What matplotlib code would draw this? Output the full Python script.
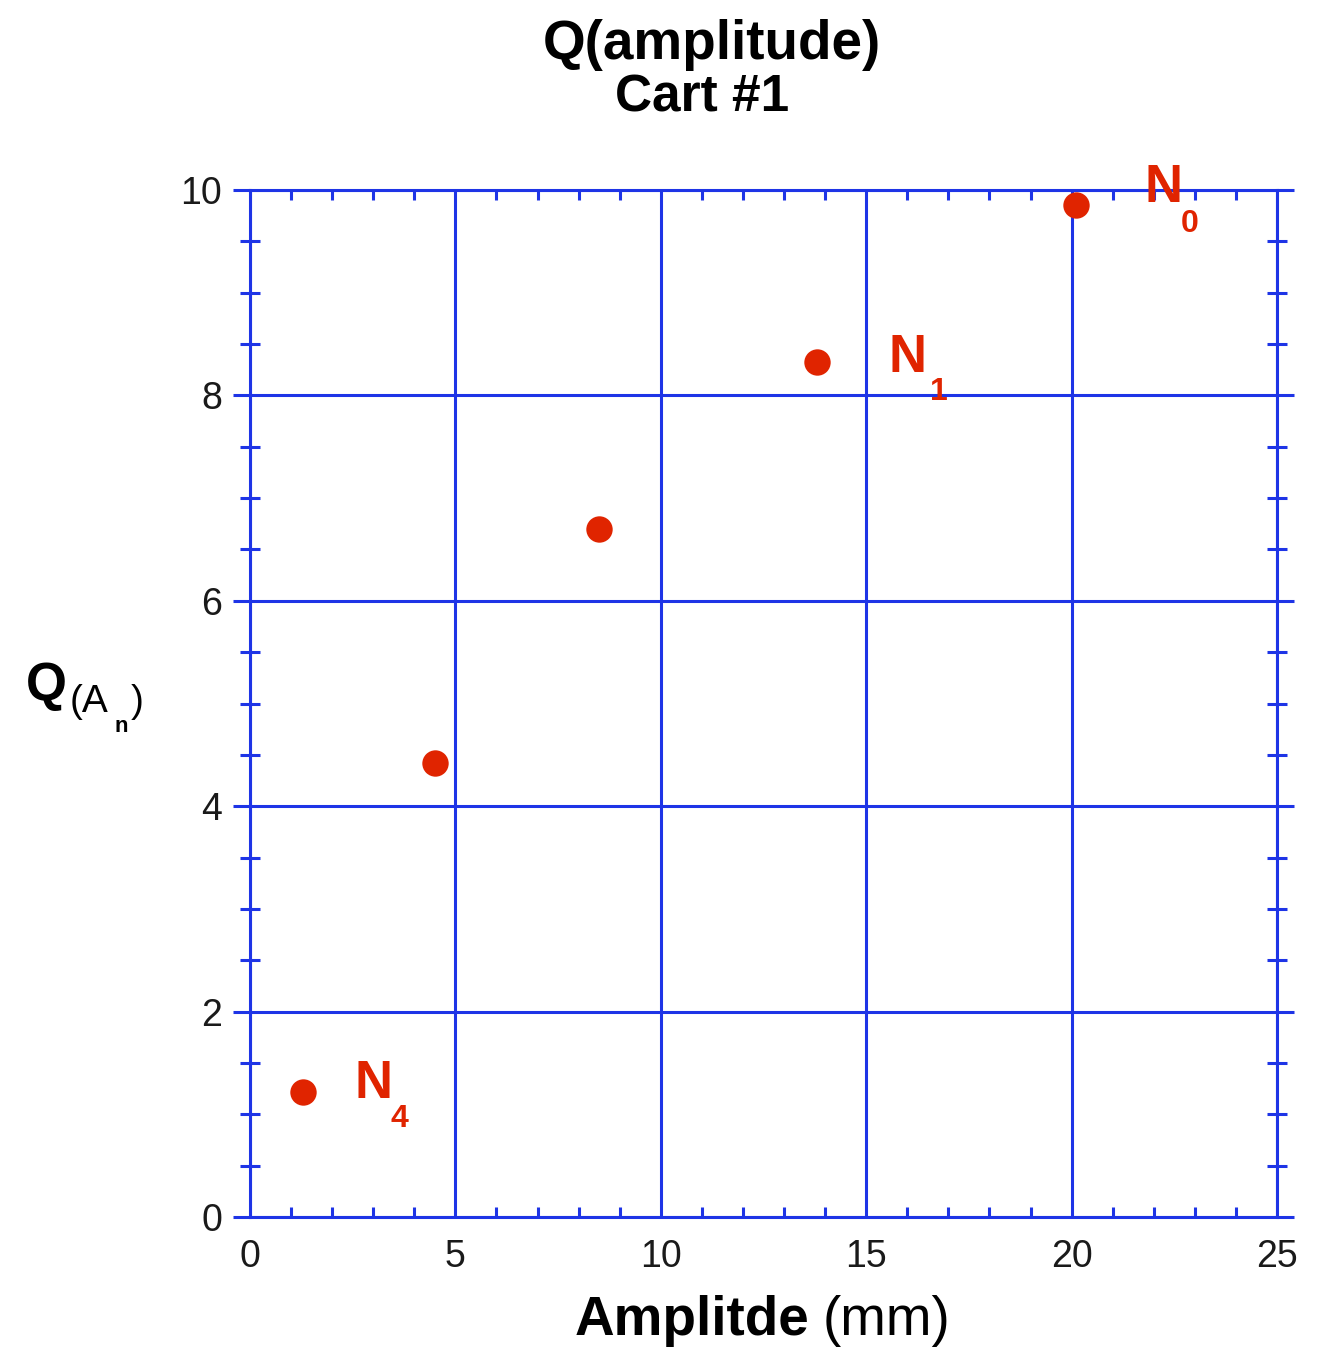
import matplotlib
matplotlib.use("Agg")
import matplotlib.pyplot as plt
from matplotlib.ticker import MultipleLocator

# data
amplitude = [1.3, 4.5, 8.5, 13.8, 20.1]
q_values = [1.22, 4.42, 6.70, 8.33, 9.85]
# labelled points: index into the data, main letter, subscript
label_idx = [4, 3, 0]
label_main = ["N", "N", "N"]
label_sub = ["0", "1", "4"]

x_ticks = [0, 5, 10, 15, 20, 25]
y_ticks = [0, 2, 4, 6, 8, 10]

BLUE = "#1E34E6"
RED = "#E02400"
FONT = "Liberation Sans"

plt.rcParams["font.family"] = [FONT, "DejaVu Sans"]

W, H = 1332, 1355
fig = plt.figure(figsize=(W / 100, H / 100), dpi=100)
ax = fig.add_axes([250 / W, 1 - 1217 / H, 1027 / W, 1027 / H])

ax.set_xlim(0, 25)
ax.set_ylim(0, 10)
ax.set_xticks(x_ticks)
ax.set_yticks(y_ticks)
ax.xaxis.set_minor_locator(MultipleLocator(1))
ax.yaxis.set_minor_locator(MultipleLocator(0.5))

ax.grid(which="major", color=BLUE, linewidth=2.2, zorder=1)
for s in ax.spines.values():
    s.set_color(BLUE)
    s.set_linewidth(2.2)

ax.tick_params(axis="x", which="major", direction="in", length=0, pad=16,
               labelsize=27, labelcolor="#1a1a1a", top=True)
ax.tick_params(axis="x", which="minor", direction="in", length=7, width=2.2,
               color=BLUE, top=True)
ax.tick_params(axis="y", which="major", direction="out", length=12, width=2.2,
               color=BLUE, pad=8, labelsize=27, labelcolor="#1a1a1a", right=True)
ax.tick_params(axis="y", which="minor", direction="inout", length=14, width=2.2,
               color=BLUE, right=True)

ax.plot(amplitude, q_values, "o", color=RED, markersize=19,
        markeredgewidth=0, zorder=3, clip_on=False)

# N labels: main letter and a lowered subscript, offsets in pixels from the point
main_off = [(69, 3), (72, -10), (51, -6)]
sub_off = [(105, -27), (113, -38), (87, -35)]
for i, m, s, mo, so in zip(label_idx, label_main, label_sub, main_off, sub_off):
    ax.annotate(m, (amplitude[i], q_values[i]), xytext=mo, textcoords="offset pixels",
                fontsize=38, fontweight="bold", color=RED, ha="left", va="baseline",
                zorder=4, annotation_clip=False)
    ax.annotate(s, (amplitude[i], q_values[i]), xytext=so, textcoords="offset pixels",
                fontsize=23, fontweight="bold", color=RED, ha="left", va="baseline",
                zorder=4, annotation_clip=False)

def ftext(px, py, s, **kw):
    fig.text(px / W, 1 - py / H, s, **kw)

# title
ftext(712, 59, "Q(amplitude)", fontsize=39.5, fontweight="bold", ha="center", va="baseline")
ftext(702, 112, "Cart #1", fontsize=37, fontweight="bold", ha="center", va="baseline")

# x label: bold word + normal unit
ftext(575, 1335, "Amplitde", fontsize=39.5, fontweight="bold", ha="left", va="baseline")
ftext(823, 1335, "(mm)", fontsize=39.5, ha="left", va="baseline")

# y label: Q(A_n)
ftext(26, 700, "Q", fontsize=38, fontweight="bold", ha="left", va="baseline")
ftext(70, 712, "(A", fontsize=28, ha="left", va="baseline")
ftext(115, 732, "n", fontsize=16, fontweight="bold", ha="left", va="baseline")
ftext(131, 712, ")", fontsize=28, ha="left", va="baseline")

fig.savefig("out.png", dpi=100)
